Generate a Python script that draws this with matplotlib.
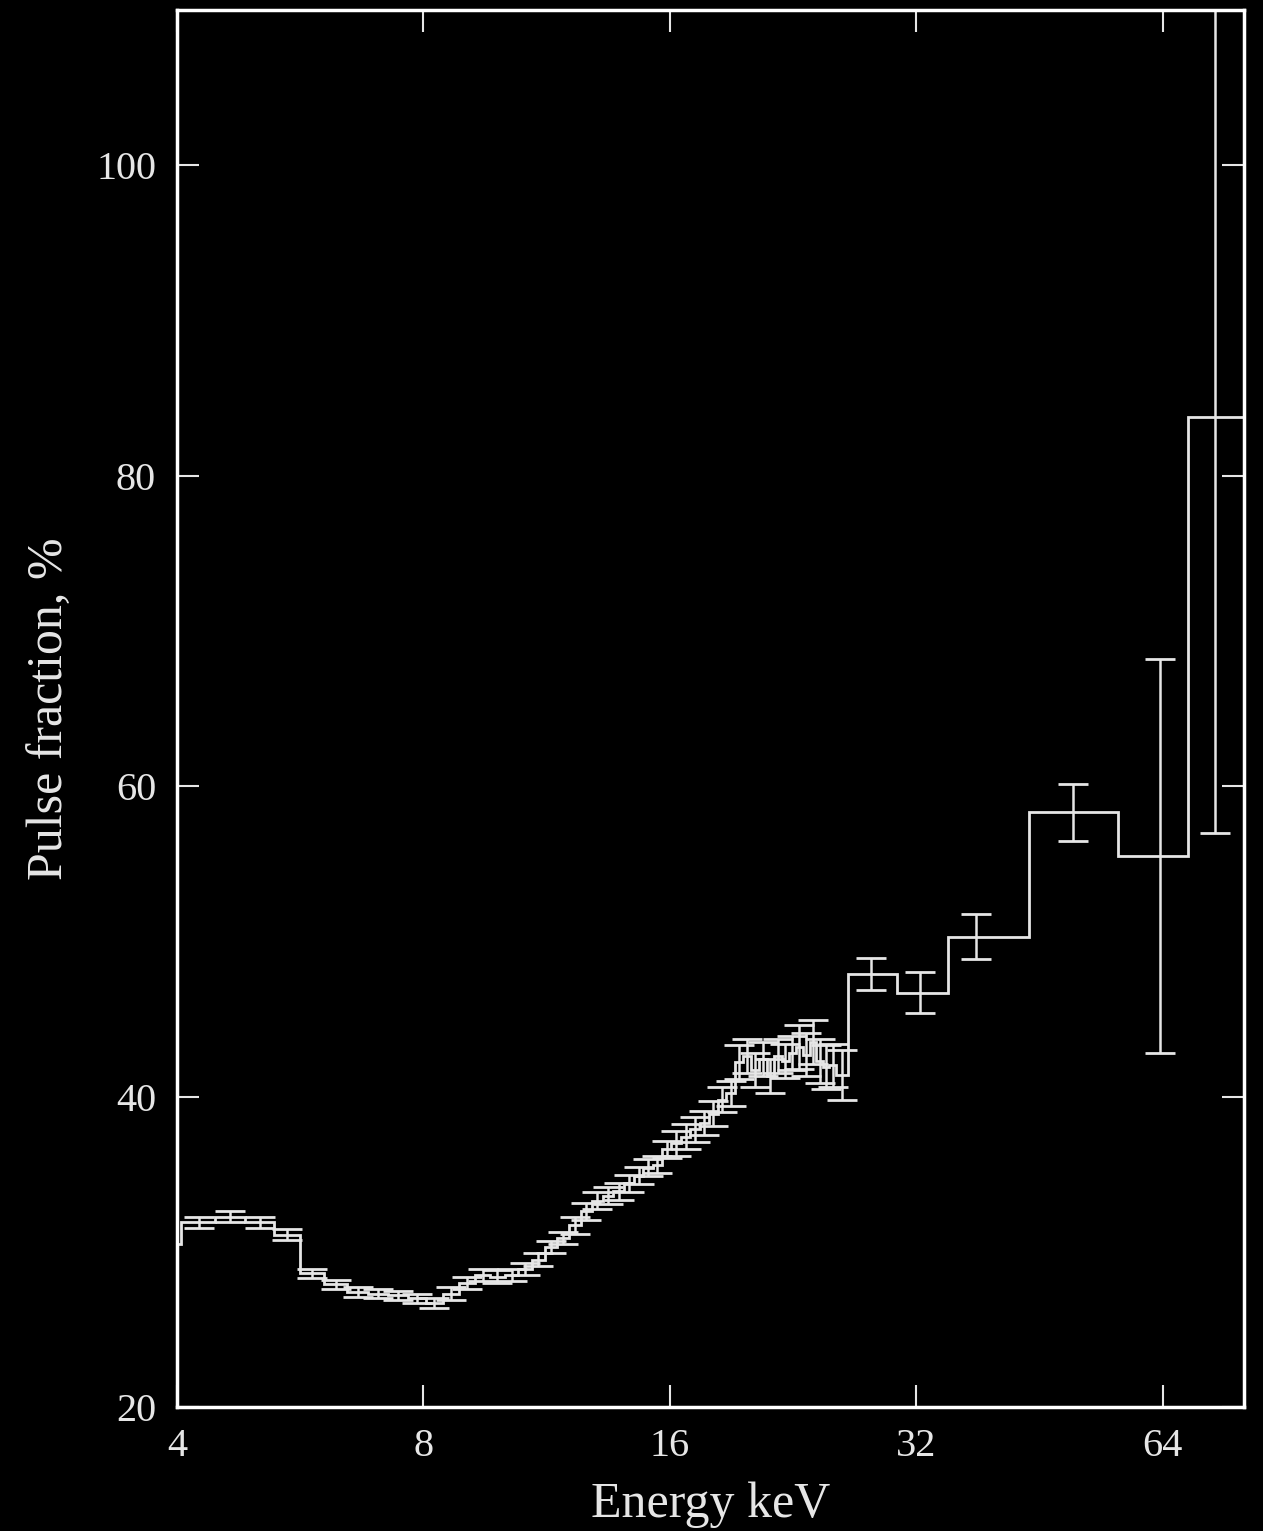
import matplotlib
matplotlib.use('Agg')
import matplotlib.pyplot as plt
from matplotlib.ticker import FixedLocator, FixedFormatter, NullLocator

plt.rcParams['font.family'] = ['Liberation Serif', 'DejaVu Serif']

# energy bin edges, keV
edges = [3.9, 4.05, 4.45, 4.85, 5.25, 5.65, 6.05, 6.45, 6.85, 7.25, 7.65, 8.05,
         8.45, 8.85, 9.25, 9.65, 10.05, 10.45, 10.85, 11.25, 11.65, 12.05,
         12.45, 12.85, 13.25, 13.65, 14.05, 14.45, 14.85, 15.25, 15.65, 16.05,
         16.5, 16.95, 17.4, 17.85, 18.3, 18.75, 19.2, 19.65, 20.1, 20.55,
         21.0, 21.45, 21.9, 22.35, 22.8, 23.25, 23.7, 24.15, 24.6, 25.05,
         25.5, 26.4, 30.3, 35.0, 43.9, 56.4, 68.6, 80.5]

# pulse fraction per bin, %
pulse_frac = [30.5,
              31.9, 32.25, 31.9, 31.1, 28.6, 27.9, 27.4, 27.3, 27.2, 27.0,
              26.7, 27.3, 28.0, 28.5, 28.4, 28.5, 28.9, 29.5, 30.3, 30.9,
              31.7, 32.6, 33.3, 33.6, 33.9, 34.4, 34.9, 35.4, 35.6, 36.6,
              37.0, 37.4, 37.9, 38.3, 38.9, 39.8, 40.2, 42.2, 42.6, 41.7,
              42.4, 41.3, 42.6, 42.3, 42.8, 43.2, 42.7, 43.5, 42.3, 41.9,
              42.0, 41.4,
              47.9, 46.7, 50.3, 58.3, 55.5, 83.8]

pf_err = [0.3,
          0.35, 0.35, 0.35, 0.35, 0.3, 0.3, 0.3, 0.3, 0.3, 0.3,
          0.3, 0.4, 0.4, 0.4, 0.4, 0.4, 0.4, 0.4, 0.4, 0.4,
          0.55, 0.55, 0.55, 0.55, 0.55, 0.55, 0.55, 0.55, 0.55, 0.55,
          0.8, 0.8, 0.8, 0.8, 0.8, 0.8, 0.8, 1.1, 1.1, 1.1,
          1.1, 1.1, 1.1, 1.1, 1.1, 1.4, 1.4, 1.4, 1.4, 1.4,
          1.4, 1.6,
          1.05, 1.35, 1.45, 1.85, 12.7, 26.8]

# where the error bars of the wide high-energy bins sit
hi_energy = [28.2, 32.3, 37.8, 49.7, 63.5, 74.1]

n_fine = len(pulse_frac) - len(hi_energy)
err_x = [(edges[i] + edges[i + 1]) / 2 for i in range(n_fine)] + hi_energy

fg = '#e6e6e6'
fig = plt.figure(figsize=(12.63, 15.31), dpi=100, facecolor='black')
ax = fig.add_axes([0.1401, 0.0810, 0.8449, 0.9125])
ax.set_facecolor('black')

ax.stairs(pulse_frac, edges, color=fg, lw=2.0, baseline=None)
# first bin starts below 4 keV, its bar falls outside the frame
ax.errorbar(err_x[1:], pulse_frac[1:], yerr=pf_err[1:], fmt='none', ecolor=fg,
            elinewidth=1.8, capsize=11, capthick=2.0)

ax.set_xscale('log', base=2)
ax.set_xlim(4, 80.4)
ax.set_ylim(20, 110)
ax.xaxis.set_major_locator(FixedLocator([4, 8, 16, 32, 64]))
ax.xaxis.set_major_formatter(FixedFormatter(['4', '8', '16', '32', '64']))
ax.xaxis.set_minor_locator(NullLocator())
ax.set_yticks([20, 40, 60, 80, 100])

for s in ax.spines.values():
    s.set_color('white')
    s.set_linewidth(2.5)
ax.tick_params(which='both', direction='in', top=True, right=True,
               length=16, width=1.5, color=fg, labelcolor=fg,
               labelsize=29, pad=15)

ax.set_xlabel('Energy keV', fontsize=36, color=fg, labelpad=12)
ax.set_ylabel('Pulse fraction, %', fontsize=36, color=fg, labelpad=16)

fig.savefig('out.png', dpi=100, facecolor='black')
